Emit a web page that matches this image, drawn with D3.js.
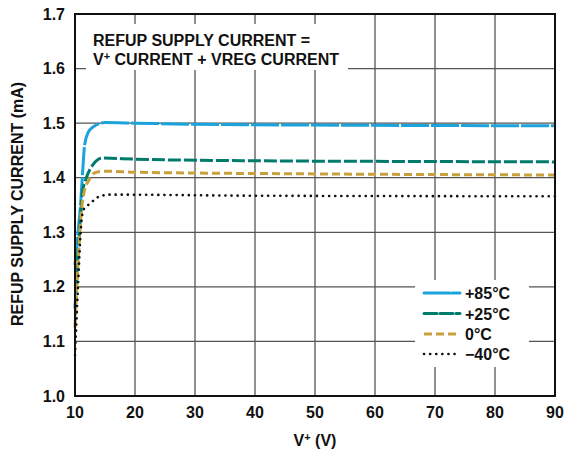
<!DOCTYPE html>
<html><head><meta charset="utf-8">
<script src="https://cdn.jsdelivr.net/npm/d3@7"></script>
<style>body{margin:0;background:#fff}svg text{font-family:"Liberation Sans",Arial,sans-serif;font-weight:bold;fill:#111}</style>
</head><body>
<svg id="chart" width="566" height="453"></svg>
<script>
const xTicks = [10,20,30,40,50,60,70,80,90];
const yTicks = [1.0,1.1,1.2,1.3,1.4,1.5,1.6,1.7];
const seriesNames = ["+85°C","+25°C","0°C","\u221240°C"];
const vPlus85 = [10,10.5,10.9,11.3,11.6,12.2,13,15,20,30,40,60,90];
const iPlus85 = [1.24,1.30,1.347,1.415,1.46,1.483,1.493,1.501,1.500,1.498,1.497,1.496,1.495];
const vPlus25 = [10,10.5,11,11.2,11.9,13,14.5,20,40,60,90];
const iPlus25 = [1.16,1.26,1.34,1.37,1.40,1.424,1.436,1.434,1.431,1.430,1.429];
const vZero = [10,10.5,11,11.6,12.2,13.3,15,20,50,90];
const iZero = [1.125,1.24,1.33,1.378,1.393,1.409,1.412,1.410,1.407,1.405];
const vMinus40 = [10,10.5,11,11.4,12.2,13.3,14.1,16,40,90];
const iMinus40 = [1.075,1.20,1.31,1.341,1.35,1.36,1.366,1.369,1.367,1.366];
const colors = ["#1ba3dc","#007a6d","#c9a13c","#111111"];
const dashes = ["28,2","13,3","8,4","0.1,6"];

const svg = d3.select("#chart");
const L=75,R=555,T=14,B=396;
const FS = 16;
const x = d3.scaleLinear().domain([10,90]).range([L,R]);
const y = d3.scaleLinear().domain([1.0,1.7]).range([B,T]);

// gridlines
const g = svg.append("g");
g.selectAll(".vg").data(xTicks.slice(1,-1)).enter().append("line")
 .attr("x1",d=>x(d)).attr("x2",d=>x(d)).attr("y1",T).attr("y2",B)
 .attr("stroke","#555").attr("stroke-width",1.3);
g.selectAll(".hg").data(yTicks.slice(1,-1)).enter().append("line")
 .attr("y1",d=>y(d)).attr("y2",d=>y(d)).attr("x1",L).attr("x2",R)
 .attr("stroke","#555").attr("stroke-width",1.3);

// annotation box
svg.append("rect").attr("x",86).attr("y",24).attr("width",262).attr("height",46).attr("fill","#fff");
svg.append("text").attr("x",93).attr("y",45.5).attr("font-size",FS).text("REFUP SUPPLY CURRENT =");
const t2 = svg.append("text").attr("x",93).attr("y",64.5).attr("font-size",FS);
t2.append("tspan").text("V");
t2.append("tspan").attr("dy",-5).attr("font-size",11).text("+");
t2.append("tspan").attr("dy",5).text(" CURRENT + VREG CURRENT");

// legend box
svg.append("rect").attr("x",415).attr("y",280).attr("width",114).attr("height",87).attr("fill","#fff");

const data = [[vPlus85,iPlus85],[vPlus25,iPlus25],[vZero,iZero],[vMinus40,iMinus40]];
const line = d3.line().x(d=>x(d[0])).y(d=>y(d[1])).curve(d3.curveMonotoneX);
data.forEach((s,i)=>{
  const pts = s[0].map((v,k)=>[v,s[1][k]]);
  svg.append("path").datum(pts).attr("d",line).attr("fill","none")
   .attr("stroke",colors[i]).attr("stroke-width",i===3?2.6:3)
   .attr("stroke-dasharray",dashes[i]).attr("stroke-linecap",i===3?"round":"butt");
});

// legend
const ly=[293,313.5,334,354];
seriesNames.forEach((n,i)=>{
  svg.append("line").attr("x1",424).attr("x2",i===3?458:460).attr("y1",ly[i]).attr("y2",ly[i])
   .attr("stroke",colors[i]).attr("stroke-width",i===3?2.6:3)
   .attr("stroke-dasharray",i===0?"26,2":dashes[i]).attr("stroke-linecap",i===3?"round":(i<2?"round":"butt"));
  svg.append("text").attr("x",465).attr("y",ly[i]+6).attr("font-size",FS).text(n);
});

// frame
svg.append("rect").attr("x",L).attr("y",T).attr("width",R-L).attr("height",B-T)
 .attr("fill","none").attr("stroke","#111").attr("stroke-width",2);

// tick labels
svg.selectAll(".yl").data(yTicks).enter().append("text")
 .attr("x",65).attr("y",d=>y(d)+5.5).attr("text-anchor","end").attr("font-size",FS).text(d=>d3.format(".1f")(d));
svg.selectAll(".xl").data(xTicks).enter().append("text")
 .attr("x",d=>x(d)).attr("y",418).attr("text-anchor","middle").attr("font-size",FS).text(d=>d);

// axis titles
const xt = svg.append("text").attr("x",315).attr("y",446).attr("text-anchor","middle").attr("font-size",FS);
xt.append("tspan").text("V");
xt.append("tspan").attr("dy",-5).attr("font-size",11).text("+");
xt.append("tspan").attr("dy",5).text(" (V)");
svg.append("text").attr("transform","translate(23,204) rotate(-90)").attr("text-anchor","middle")
 .attr("font-size",FS).text("REFUP SUPPLY CURRENT (mA)");
</script>
</body></html>
